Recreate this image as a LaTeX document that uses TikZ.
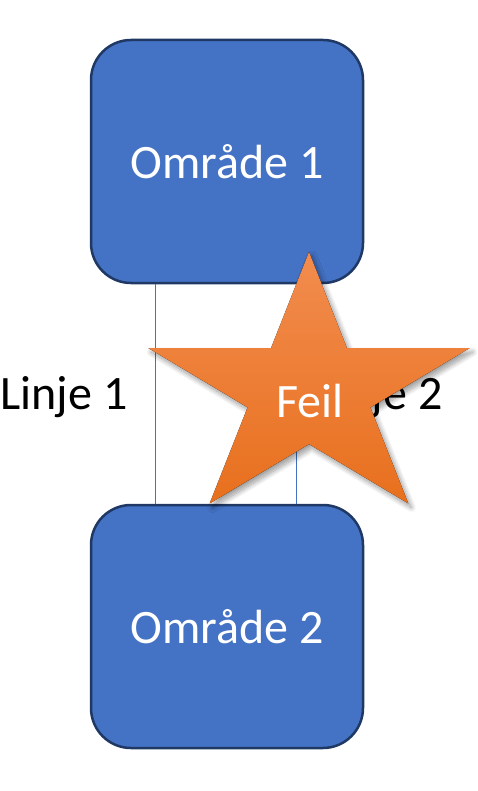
\documentclass[tikz,border=0pt]{standalone}
\usepackage{fontspec}
\setmainfont{Carlito}
\usepackage{tikz}
\usetikzlibrary{positioning, calc, shadows.blur}
\definecolor{cBox}{RGB}{68,114,196}
\definecolor{cEdge}{RGB}{31,56,100}
\definecolor{cStarTop}{RGB}{242,140,78}
\definecolor{cStarBot}{RGB}{232,112,30}
\tikzset{
	area/.style   ={rectangle, rounded corners=40pt, minimum width=272pt, minimum height=243pt, draw=cEdge, line width=2.5pt, fill=cBox, text=white, align=center},
	link/.style   ={draw=cBox, line width=0.9pt},
	lbl/.style    ={text=black},
	starfill/.style={top color=cStarTop, bottom color=cStarBot, blur shadow={shadow xshift=3pt, shadow yshift=-4pt, shadow blur steps=12, shadow blur radius=5pt, shadow opacity=40}},
}

\begin{document}
\begin{tikzpicture}[x=1pt, y=-1pt, font=\fontsize{48}{58}\selectfont]
	\useasboundingbox (0,0) rectangle (477,791);
	\node[area] (omr1) at (227,161.5) {Område 1};
	\node[area] (omr2) at (227,626.5) {Område 2};
	\draw[link] ([xshift=-72pt]omr1.south) -- ([xshift=-72pt]omr2.north);
	\draw[link] ([xshift=69pt]omr1.south) -- ([xshift=69pt]omr2.north);
	\node[lbl] (linje1) at (64,397) {Linje 1};
	\node[lbl] (linje2) at (379,397) {Linje 2};
	% star on top, stretched sideways
	\fill[starfill] (309,252)
		\foreach \a in {126,162,198,234,270,306,342,378,414} {
			-- ({309+169*cos(\a)*(\a==162||\a==234||\a==306||\a==378 ? 1 : 0.382)}, {391-139*sin(\a)*(\a==162||\a==234||\a==306||\a==378 ? 1 : 0.382)})
		} -- cycle;
	\node[text=white] (feil) at (310,401) {Feil};
\end{tikzpicture}
\end{document}
